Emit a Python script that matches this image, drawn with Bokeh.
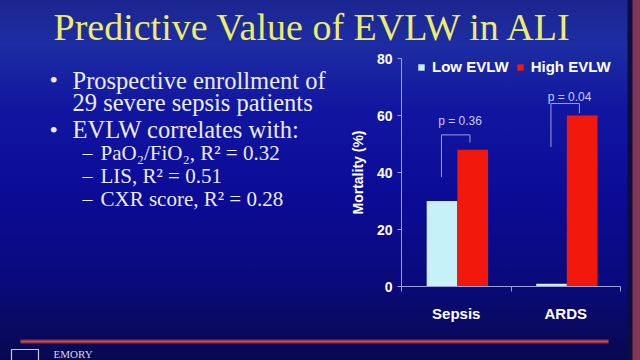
from bokeh.plotting import figure
from bokeh.layouts import column, row
from bokeh.models import Range1d, FixedTicker, GlobalInlineStyleSheet
from bokeh.core.properties import value
from bokeh.embed import file_html
from bokeh.resources import INLINE

# ---------------- data ----------------
categories = ["Sepsis", "ARDS"]
series_names = ["Low EVLW", "High EVLW"]
low_evlw = [30, 1]
high_evlw = [48, 60]
p_values = ["p = 0.36", "p = 0.04"]
bracket_low_end = [38.4, 48.9]
bracket_top = [53.2, 64.2]
bracket_high_end = [50.5, 60.8]
p_label_y = [57.9, 66.4]
y_ticks = [0, 20, 40, 60, 80]
y_label = "Mortality (%)"

title_text = "Predictive Value of EVLW in ALI"
bullet_lines = ["Prospective enrollment of", "29 severe sepsis patients",
                "EVLW correlates with:"]
bullet_marks = ["\u2022", "", "\u2022"]
sub_lines = ["PaO\u2082/FiO\u2082, R\u00b2 = 0.32", "LIS, R\u00b2 = 0.51",
             "CXR score, R\u00b2 = 0.28"]
footer_text = "EMORY"

# ---------------- styles ----------------
LIGHT = "#c6f1f8"
RED = "#f2190c"
AXIS = "#9c9fd6"
PTXT = "#c9cdea"
WHITE = "#ffffff"
SLIDE_TXT = "#ececf4"
TITLE_COL = "#ecec6e"
SERIF = "Liberation Serif"
SANS = "Liberation Sans"
LOW_OFF, HIGH_OFF, BAR_W = -0.13, 0.15, 0.28
BR_L, BR_R = -0.135, 0.125

PAGE_W, PAGE_H = 640, 360
TOP_H, MID_H, BOT_H = 48, 282, 30
TEXT_W = 345
CHART_W = PAGE_W - TEXT_W

css = ("body{background:"
       "linear-gradient(to right, rgba(0,0,0,0) 627px, #0c0c40 628px, #0c0c40 632px, #823655 633px),"
       "linear-gradient(to bottom, #1b2590 0%, #1d2da2 12%, #1116a0 30%, #0b0b96 55%, "
       "#0a0a7c 78%, #080850 100%);}")


def blank_fig(w, h, y_top):
    f = figure(width=w, height=h, output_backend="svg", toolbar_location=None,
               x_range=Range1d(0, w), y_range=Range1d(y_top + h, y_top),
               x_axis_type=None, y_axis_type=None, min_border=0)
    f.min_border_left = f.min_border_right = f.min_border_top = f.min_border_bottom = 0
    f.background_fill_alpha = 0
    f.border_fill_alpha = 0
    f.outline_line_color = None
    f.grid.visible = False
    return f


# ---------------- title strip ----------------
top = blank_fig(PAGE_W, TOP_H, 0)
top.stylesheets = [GlobalInlineStyleSheet(css=css)]
top.text(x=[53], y=[26], text=[title_text], text_font=value(SERIF),
         text_font_size="38px", text_color=TITLE_COL, text_baseline="alphabetic")

# ---------------- bullet text panel ----------------
txt = blank_fig(TEXT_W, MID_H, TOP_H)
txt.text(x=[49] * len(bullet_lines), y=[75, 103, 136], text=bullet_marks,
         text_font=value(SERIF), text_font_size="24px", text_color=SLIDE_TXT,
         text_baseline="alphabetic")
txt.text(x=[72] * len(bullet_lines), y=[75, 103, 136], text=bullet_lines,
         text_font=value(SERIF), text_font_size="24.5px", text_color=SLIDE_TXT,
         text_baseline="alphabetic")
txt.text(x=[82] * len(sub_lines), y=[165, 193, 222], text=["\u2013"] * len(sub_lines),
         text_font=value(SERIF), text_font_size="20px", text_color=SLIDE_TXT,
         text_baseline="alphabetic")
txt.text(x=[100] * len(sub_lines), y=[165, 193, 222], text=sub_lines,
         text_font=value(SERIF), text_font_size="21px", text_color=SLIDE_TXT,
         text_baseline="alphabetic")

# ---------------- chart ----------------
n = len(categories)
p = figure(width=CHART_W, height=MID_H, output_backend="svg", toolbar_location=None,
           x_range=Range1d(0, n), y_range=Range1d(y_ticks[0], y_ticks[-1]),
           min_border_left=56, min_border_right=20, min_border_top=10,
           min_border_bottom=44)
p.background_fill_alpha = 0
p.border_fill_alpha = 0
p.outline_line_color = None
p.xgrid.grid_line_color = None
p.ygrid.grid_line_color = None

x_low = [i + 0.5 + LOW_OFF for i in range(n)]
x_high = [i + 0.5 + HIGH_OFF for i in range(n)]
p.vbar(x=x_low, top=low_evlw, width=BAR_W, fill_color=LIGHT, line_color=None,
       legend_label=series_names[0])
p.vbar(x=x_high, top=high_evlw, width=BAR_W, fill_color=RED, line_color=None,
       legend_label=series_names[1])

xs, ys = [], []
for i in range(n):
    xl = i + 0.5 + BR_L
    xr = i + 0.5 + BR_R
    xs.append([xl, xl, xr, xr])
    ys.append([bracket_low_end[i], bracket_top[i], bracket_top[i], bracket_high_end[i]])
p.multi_line(xs=xs, ys=ys, line_color=AXIS, line_width=1)
p.text(x=[i + 0.5 + (BR_L + BR_R) / 2 + 0.04 for i in range(n)], y=p_label_y,
       text=p_values, text_align="center", text_baseline="middle",
       text_font=value(SANS), text_font_size="12px", text_color=PTXT)

leg = p.legend[0]
leg.orientation = "horizontal"
leg.location = (16, 211)
leg.background_fill_alpha = 0
leg.border_line_color = None
leg.padding = 0
leg.margin = 0
leg.spacing = 7
leg.glyph_width = 8
leg.glyph_height = 8
leg.label_standoff = 7
leg.label_height = 17
leg.label_text_font = SANS
leg.label_text_font_style = "bold"
leg.label_text_font_size = "15px"
leg.label_text_color = WHITE

xa = p.xaxis[0]
xa.ticker = FixedTicker(ticks=[i + 0.5 for i in range(n)],
                        minor_ticks=list(range(n + 1)))
xa.major_label_overrides = {i + 0.5: c for i, c in enumerate(categories)}
xa.major_tick_line_color = None
xa.major_tick_out = 0
xa.major_tick_in = 0
xa.minor_tick_line_color = AXIS
xa.minor_tick_out = 5
xa.minor_tick_in = 0
xa.axis_line_color = AXIS
xa.major_label_standoff = 13
xa.major_label_text_font = SANS
xa.major_label_text_font_style = "bold"
xa.major_label_text_font_size = "15px"
xa.major_label_text_color = WHITE

ya = p.yaxis[0]
ya.ticker = FixedTicker(ticks=y_ticks)
ya.minor_tick_line_color = None
ya.major_tick_out = 4
ya.major_tick_in = 0
ya.major_tick_line_color = AXIS
ya.axis_line_color = AXIS
ya.major_label_standoff = 5
ya.major_label_text_font = SANS
ya.major_label_text_font_style = "bold"
ya.major_label_text_font_size = "14px"
ya.major_label_text_color = WHITE
ya.axis_label = y_label
ya.axis_label_standoff = 8
ya.axis_label_text_font = SANS
ya.axis_label_text_font_style = "bold"
ya.axis_label_text_font_size = "14px"
ya.axis_label_text_color = WHITE

# ---------------- footer strip ----------------
bot = blank_fig(PAGE_W, BOT_H, TOP_H + MID_H)
bot.segment(x0=[20], y0=[341], x1=[608], y1=[341], line_color="#e0553a",
            line_width=5, line_alpha=0.3)
bot.segment(x0=[20], y0=[341], x1=[608], y1=[341], line_color="#e04a30",
            line_width=2.2)
bot.quad(left=[11], right=[38], top=[349], bottom=[362], fill_color=None,
         line_color="#c8c8d8", line_width=1.2)
bot.text(x=[53], y=[353], text=[footer_text], text_font=value(SERIF),
         text_font_size="11px", text_color="#d8d8e4", text_baseline="alphabetic")

layout = column(top, row(txt, p, spacing=0), bot, spacing=0)
open("out.html", "w").write(file_html(layout, INLINE))
